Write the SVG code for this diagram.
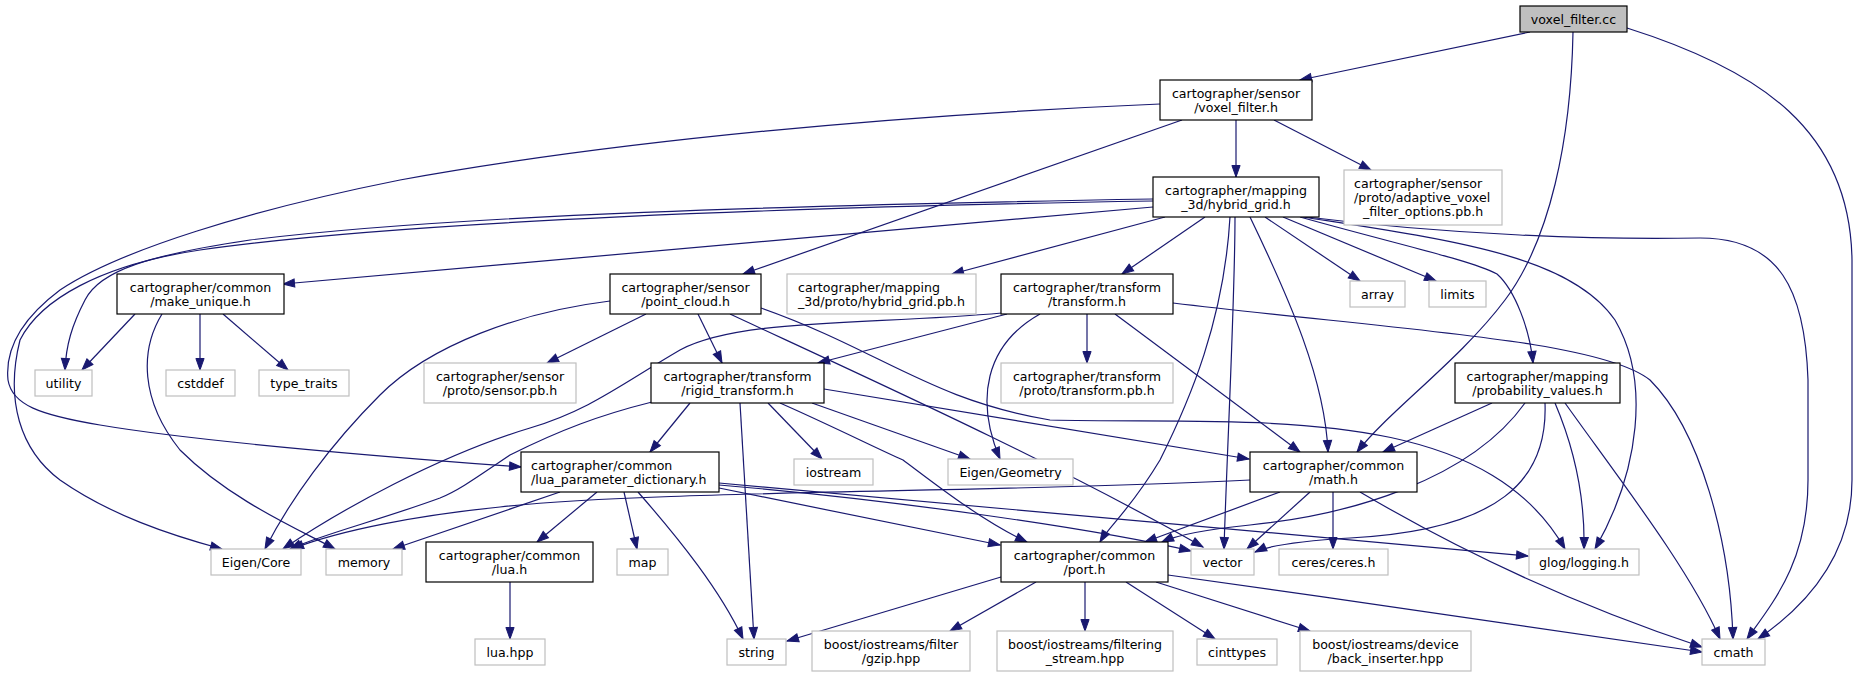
<svg xmlns="http://www.w3.org/2000/svg" width="1866" height="677" viewBox="0 0 1866 677">
<style>
rect{fill:#fff;stroke:#000;stroke-width:1.2}
.x rect{stroke:#bfbfbf}
.r rect{fill:#bfbfbf}
text{font-family:"DejaVu Sans","Liberation Sans",sans-serif;font-size:12.6px;fill:#000;text-anchor:middle}
text.l{text-anchor:start}
#edges path{fill:none;stroke:#191970;stroke-width:1.2;marker-end:url(#a)}
</style>
<defs>
<marker id="a" markerUnits="userSpaceOnUse" markerWidth="13" markerHeight="10" refX="11.5" refY="4.5" orient="auto" overflow="visible">
<path d="M0,0.4 L11.5,4.5 L0,8.6 z" fill="#191970" stroke="#191970" stroke-width="1"/>
</marker>
</defs>
<rect x="0" y="0" width="1866" height="677" style="fill:#fff;stroke:none"/>
<g id="edges">
<path d="M1530,32 L1300,80"/>
<path d="M1573,32 C1571,140 1550,240 1505,300 C1460,360 1390,410 1357,452"/>
<path d="M1627,28 C1760,70 1850,130 1852,260 L1852,480 C1852,560 1800,610 1758,639"/>
<path d="M1236,120 L1236,177"/>
<path d="M1274,120 L1371,170"/>
<path d="M1182,120 L743,274"/>
<path d="M1160,104 C900,115 620,140 400,180 C250,210 120,250 60,290 C20,320 5,350 8,380 C12,405 40,415 100,425 C200,442 400,458 521,467"/>
<path d="M1153,207 L283,284"/>
<path d="M1153,199 C800,205 450,215 250,240 C150,255 100,270 85,300 C72,325 66,345 65,370"/>
<path d="M1153,201 C800,207 400,221 200,250 C100,265 40,300 20,340 C5,400 20,450 60,480 C110,515 170,535 222,549"/>
<path d="M1165,217 L952,274"/>
<path d="M1205,217 L1122,274"/>
<path d="M1230,217 C1224,320 1190,400 1160,460 C1130,510 1110,525 1100,542"/>
<path d="M1235,217 C1235,300 1227,450 1224,549"/>
<path d="M1250,217 C1290,300 1325,380 1328,452"/>
<path d="M1265,217 L1360,281"/>
<path d="M1283,217 L1436,281"/>
<path d="M1300,217 C1400,245 1470,260 1497,274 C1515,290 1530,330 1533,363"/>
<path d="M1303,217 C1450,240 1570,255 1615,320 C1650,380 1640,470 1595,549"/>
<path d="M1307,217 C1450,235 1600,240 1700,238 C1780,238 1805,290 1808,380 L1808,480 C1808,560 1775,600 1747,639"/>
<path d="M135,314 L82,370"/>
<path d="M200,314 L200,370"/>
<path d="M223,314 L288,370"/>
<path d="M162,314 C140,350 140,400 180,450 C230,500 300,530 335,549"/>
<path d="M610,301 C520,312 430,345 380,395 C330,445 290,500 265,549"/>
<path d="M646,314 L547,363"/>
<path d="M698,314 L722,363"/>
<path d="M730,314 C850,370 1050,460 1203,547"/>
<path d="M761,308 C880,350 930,400 1050,420 C1250,425 1480,400 1565,549"/>
<path d="M1007,314 L818,363"/>
<path d="M1002,313 C870,325 740,318 680,350 C620,385 590,410 530,428 C440,455 340,510 283,549"/>
<path d="M1040,314 C985,345 975,400 1000,459"/>
<path d="M1087,314 L1087,363"/>
<path d="M1115,314 L1300,452"/>
<path d="M1173,303 C1400,330 1600,340 1650,380 C1700,430 1730,540 1733,639"/>
<path d="M690,403 L650,452"/>
<path d="M652,402 C600,415 560,430 510,455 C480,475 460,490 440,498 C380,520 320,535 290,549"/>
<path d="M740,403 L754,639"/>
<path d="M768,403 L822,459"/>
<path d="M812,403 L970,459"/>
<path d="M780,403 C830,425 880,450 903,460 C930,480 980,520 1027,542"/>
<path d="M824,389 L1249,459"/>
<path d="M560,492 L393,549"/>
<path d="M597,492 L537,542"/>
<path d="M624,492 L637,549"/>
<path d="M638,492 C680,540 720,590 743,639"/>
<path d="M719,488 L1000,545"/>
<path d="M719,485 C900,500 1100,530 1191,551"/>
<path d="M719,483 L1528,556"/>
<path d="M510,582 L510,639"/>
<path d="M1250,480 C1000,493 650,490 500,507 C420,515 340,530 292,549"/>
<path d="M1280,492 L1145,542"/>
<path d="M1310,492 L1247,549"/>
<path d="M1333,492 L1333,549"/>
<path d="M1360,492 C1450,545 1560,600 1702,647"/>
<path d="M1492,403 L1383,452"/>
<path d="M1525,403 C1470,480 1350,515 1250,525 C1200,530 1175,536 1162,542"/>
<path d="M1545,403 C1548,480 1500,530 1350,538 C1300,541 1270,545 1255,552"/>
<path d="M1555,403 C1575,450 1585,500 1584,549"/>
<path d="M1565,403 C1620,480 1690,570 1720,639"/>
<path d="M1001,577 L787,641"/>
<path d="M1036,582 L950,631"/>
<path d="M1085,582 L1085,631"/>
<path d="M1126,582 L1215,639"/>
<path d="M1156,582 L1310,631"/>
<path d="M1168,575 C1350,600 1550,630 1702,652"/>
</g>
<g id="n0" class="r"><rect x="1520" y="6" width="107" height="26"/><text x="1573.5" y="23.5">voxel_filter.cc</text></g>
<g id="n1"><rect x="1160" y="80" width="152" height="40"/><text x="1236" y="97.5">cartographer/sensor</text><text x="1236" y="111.7">/voxel_filter.h</text></g>
<g id="n2"><rect x="1153" y="177" width="166" height="40"/><text x="1236" y="194.5">cartographer/mapping</text><text x="1236" y="208.7">_3d/hybrid_grid.h</text></g>
<g id="n3" class="x"><rect x="1344" y="170" width="158" height="55"/><text class="l" x="1354" y="187.8">cartographer/sensor</text><text class="l" x="1354" y="202">/proto/adaptive_voxel</text><text x="1423" y="216.2">_filter_options.pb.h</text></g>
<g id="n4"><rect x="117" y="274" width="167" height="40"/><text x="200.5" y="291.5">cartographer/common</text><text x="200.5" y="305.7">/make_unique.h</text></g>
<g id="n5"><rect x="610" y="274" width="151" height="40"/><text x="685.5" y="291.5">cartographer/sensor</text><text x="685.5" y="305.7">/point_cloud.h</text></g>
<g id="n6" class="x"><rect x="787" y="274" width="189" height="40"/><text class="l" x="798" y="291.5">cartographer/mapping</text><text class="l" x="798" y="305.7">_3d/proto/hybrid_grid.pb.h</text></g>
<g id="n7"><rect x="1001" y="274" width="172" height="40"/><text x="1087" y="291.5">cartographer/transform</text><text x="1087" y="305.7">/transform.h</text></g>
<g id="n8" class="x"><rect x="1350" y="281" width="55" height="26"/><text x="1377.5" y="298.5">array</text></g>
<g id="n9" class="x"><rect x="1429" y="281" width="57" height="26"/><text x="1457.5" y="298.5">limits</text></g>
<g id="n10" class="x"><rect x="35" y="370" width="57" height="26"/><text x="63.5" y="387.5">utility</text></g>
<g id="n11" class="x"><rect x="166" y="370" width="69" height="26"/><text x="200.5" y="387.5">cstddef</text></g>
<g id="n12" class="x"><rect x="259" y="370" width="90" height="26"/><text x="304" y="387.5">type_traits</text></g>
<g id="n13" class="x"><rect x="424" y="363" width="152" height="40"/><text x="500" y="380.5">cartographer/sensor</text><text x="500" y="394.7">/proto/sensor.pb.h</text></g>
<g id="n14"><rect x="651" y="363" width="173" height="40"/><text x="737.5" y="380.5">cartographer/transform</text><text x="737.5" y="394.7">/rigid_transform.h</text></g>
<g id="n15" class="x"><rect x="1001" y="363" width="172" height="40"/><text x="1087" y="380.5">cartographer/transform</text><text x="1087" y="394.7">/proto/transform.pb.h</text></g>
<g id="n16"><rect x="1455" y="363" width="165" height="40"/><text x="1537.5" y="380.5">cartographer/mapping</text><text x="1537.5" y="394.7">/probability_values.h</text></g>
<g id="n17"><rect x="521" y="452" width="198" height="40"/><text class="l" x="531" y="469.5">cartographer/common</text><text class="l" x="531" y="483.7">/lua_parameter_dictionary.h</text></g>
<g id="n18" class="x"><rect x="794" y="459" width="79" height="26"/><text x="833.5" y="476.5">iostream</text></g>
<g id="n19" class="x"><rect x="948" y="459" width="125" height="26"/><text x="1010.5" y="476.5">Eigen/Geometry</text></g>
<g id="n20"><rect x="1250" y="452" width="167" height="40"/><text x="1333.5" y="469.5">cartographer/common</text><text x="1333.5" y="483.7">/math.h</text></g>
<g id="n21" class="x"><rect x="211" y="549" width="90" height="26"/><text x="256" y="566.5">Eigen/Core</text></g>
<g id="n22" class="x"><rect x="326" y="549" width="76" height="26"/><text x="364" y="566.5">memory</text></g>
<g id="n23"><rect x="426" y="542" width="167" height="40"/><text x="509.5" y="559.5">cartographer/common</text><text x="509.5" y="573.7">/lua.h</text></g>
<g id="n24" class="x"><rect x="617" y="549" width="51" height="26"/><text x="642.5" y="566.5">map</text></g>
<g id="n25"><rect x="1001" y="542" width="167" height="40"/><text x="1084.5" y="559.5">cartographer/common</text><text x="1084.5" y="573.7">/port.h</text></g>
<g id="n26" class="x"><rect x="1191" y="549" width="63" height="26"/><text x="1222.5" y="566.5">vector</text></g>
<g id="n27" class="x"><rect x="1279" y="549" width="109" height="26"/><text x="1333.5" y="566.5">ceres/ceres.h</text></g>
<g id="n28" class="x"><rect x="1529" y="549" width="110" height="26"/><text x="1584" y="566.5">glog/logging.h</text></g>
<g id="n29" class="x"><rect x="475" y="639" width="70" height="26"/><text x="510" y="656.5">lua.hpp</text></g>
<g id="n30" class="x"><rect x="727" y="639" width="59" height="26"/><text x="756.5" y="656.5">string</text></g>
<g id="n31" class="x"><rect x="812" y="631" width="158" height="40"/><text x="891" y="648.5">boost/iostreams/filter</text><text x="891" y="662.7">/gzip.hpp</text></g>
<g id="n32" class="x"><rect x="997" y="631" width="176" height="40"/><text x="1085" y="648.5">boost/iostreams/filtering</text><text x="1085" y="662.7">_stream.hpp</text></g>
<g id="n33" class="x"><rect x="1197" y="639" width="80" height="26"/><text x="1237" y="656.5">cinttypes</text></g>
<g id="n34" class="x"><rect x="1300" y="631" width="171" height="40"/><text x="1385.5" y="648.5">boost/iostreams/device</text><text x="1385.5" y="662.7">/back_inserter.hpp</text></g>
<g id="n35" class="x"><rect x="1702" y="639" width="63" height="26"/><text x="1733.5" y="656.5">cmath</text></g>
</svg>
